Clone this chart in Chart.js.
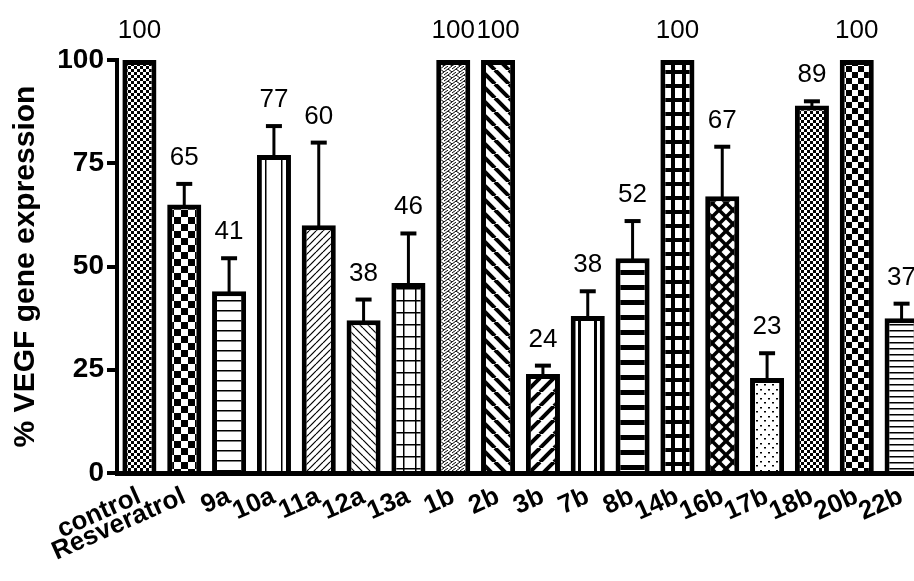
<!DOCTYPE html>
<html>
<head>
<meta charset="utf-8">
<script src="https://cdn.jsdelivr.net/npm/chart.js@4.4.1/dist/chart.umd.min.js"></script>
<style>
  html, body { margin: 0; padding: 0; background: #fff; overflow: hidden; }
  #wrap { position: absolute; left: 0; top: 0; width: 930px; height: 581px; }
</style>
</head>
<body>
<div id="wrap"><canvas id="myChart"></canvas></div>
<script>
// data
const categories = ['control', 'Resveratrol', '9a', '10a', '11a', '12a', '13a', '1b', '2b', '3b', '7b', '8b', '14b', '16b', '17b', '18b', '20b', '22b'];
const values = [100, 65, 44, 77, 60, 37, 46, 100, 100, 24, 38, 52, 100, 67, 23, 89, 100, 37.5];
const errors = [0, 5, 8, 7, 20, 5, 12, 0, 0, 2, 6, 9, 0, 12, 6, 1, 0, 3.5];
const valueLabels = ['100', '65', '41', '77', '60', '38', '46', '100', '100', '24', '38', '52', '100', '67', '23', '89', '100', '37'];
const yTicks = [0, 25, 50, 75, 100];

// fill pattern for each bar (same order as categories)
const patternKinds = ['checkS', 'checkL', 'hThin', 'vThin', 'slashThin', 'backThin', 'gridThin', 'zigzag', 'backThick', 'slashThick', 'vThick', 'hThick', 'gridThick', 'diamond', 'dots', 'checkS', 'checkM', 'hThin2'];

function makePattern(kind) {
    var c = document.createElement('canvas');
    var w = 12, h = 12;
    var setup = {
        checkS: [6, 6], checkL: [14, 14], checkM: [12, 12],
        hThin: [10, 10], hThin2: [10, 6], vThin: [16, 10],
        slashThin: [7, 7], backThin: [8, 8], gridThin: [12, 12],
        zigzag: [8, 6], backThick: [14, 14], slashThick: [14, 14],
        vThick: [16, 10], hThick: [10, 15], gridThick: [11, 14],
        diamond: [14, 14], dots: [8, 9]
    }[kind];
    w = setup[0]; h = setup[1];
    c.width = w; c.height = h;
    var g = c.getContext('2d');
    g.fillStyle = '#fff';
    g.fillRect(0, 0, w, h);
    g.fillStyle = '#000';
    g.strokeStyle = '#000';
    if (kind.indexOf('check') == 0) {
        g.fillRect(0, 0, w / 2, h / 2);
        g.fillRect(w / 2, h / 2, w / 2, h / 2);
    }
    else if (kind == 'hThin' || kind == 'hThin2') {
        g.fillRect(0, 0, w, 1.5);
    }
    else if (kind == 'hThick') {
        g.fillRect(0, 0, w, 5);
    }
    else if (kind == 'vThin') {
        g.fillRect(w / 2, 0, 1.5, h);
    }
    else if (kind == 'vThick') {
        g.fillRect(w / 2 - 1, 0, 3, h);
    }
    else if (kind == 'gridThin') {
        g.fillRect(0, 0, w, 1.5);
        g.fillRect(0, 0, 1.5, h);
    }
    else if (kind == 'gridThick') {
        g.fillRect(0, 0, w, 4);
        g.fillRect(0, 0, 4, h);
    }
    else if (kind == 'slashThin' || kind == 'slashThick' || kind == 'backThin' || kind == 'backThick' || kind == 'diamond') {
        g.lineWidth = kind.indexOf('Thin') > 0 ? 1.2 : 4;
        if (kind == 'diamond') g.lineWidth = 3.5;
        var dirs = kind == 'diamond' ? [1, -1] : (kind.indexOf('slash') == 0 ? [1] : [-1]);
        dirs.forEach(function (d) {
            for (var k = -1; k <= 1; k++) {
                g.beginPath();
                if (d == 1) {
                    g.moveTo(k * w, h);
                    g.lineTo(k * w + w, 0);
                } else {
                    g.moveTo(k * w, 0);
                    g.lineTo(k * w + w, h);
                }
                g.stroke();
            }
        });
    }
    else if (kind == 'zigzag') {
        g.lineWidth = 1;
        g.beginPath();
        g.moveTo(0, h);
        g.lineTo(w / 2, h / 2);
        g.lineTo(w, h);
        g.moveTo(0, h / 2);
        g.lineTo(w / 2, 0);
        g.moveTo(w / 2, h / 2);
        g.lineTo(w, 0);
        g.stroke();
    }
    else if (kind == 'dots') {
        g.fillRect(2, 2, 2, 1.5);
        g.fillRect(6, 6, 2, 1.5);
    }
    return document.getElementById('myChart').getContext('2d').createPattern(c, 'repeat');
}

const patterns = patternKinds.map(makePattern);
const FONT = '"Liberation Sans", Arial, sans-serif';

// lines the patterns up with each bar, then draws error bars and value labels
const barExtras = {
    id: 'barExtras',
    beforeDatasetsDraw(chart) {
        var meta = chart.getDatasetMeta(0);
        meta.data.forEach(function (bar, i) {
            var left = Math.round(bar.x - bar.width / 2);
            patterns[i].setTransform(new DOMMatrix([1, 0, 0, 1, left, 0]));
        });
    },
    afterDatasetsDraw(chart) {
        var ctx = chart.ctx;
        var y = chart.scales.y;
        var meta = chart.getDatasetMeta(0);
        ctx.save();
        ctx.strokeStyle = '#000';
        meta.data.forEach(function (bar, i) {
            var top = y.getPixelForValue(values[i] + errors[i]);
            if (errors[i] > 0) {
                ctx.lineWidth = 3;
                ctx.beginPath();
                ctx.moveTo(bar.x, y.getPixelForValue(values[i]) + 2);
                ctx.lineTo(bar.x, top);
                ctx.stroke();
                ctx.lineWidth = 4;
                ctx.beginPath();
                ctx.moveTo(bar.x - 8, top);
                ctx.lineTo(bar.x + 8, top);
                ctx.stroke();
            }
            ctx.fillStyle = '#000';
            ctx.font = '26px ' + FONT;
            ctx.textAlign = 'center';
            ctx.textBaseline = 'alphabetic';
            ctx.fillText(valueLabels[i], bar.x, top - (errors[i] > 0 ? 19 : 22));
        });
        ctx.restore();
    }
};

var chart = new Chart(document.getElementById('myChart'), {
    type: 'bar',
    data: {
        labels: categories,
        datasets: [{
            data: values,
            backgroundColor: patterns,
            borderColor: '#000',
            borderWidth: 5,
            borderSkipped: 'start',
            barPercentage: 0.76,
            categoryPercentage: 1
        }]
    },
    options: {
        responsive: true,
        maintainAspectRatio: false,
        devicePixelRatio: 1,
        animation: false,
        layout: { padding: { top: 60, right: 6, bottom: 0, left: 0 } },
        plugins: { legend: { display: false }, tooltip: { enabled: false } },
        scales: {
            x: {
                afterFit: function (scale) { scale.height = 108; },
                grid: { display: false, drawTicks: false },
                border: { display: true, color: '#000', width: 5 },
                ticks: {
                    autoSkip: false,
                    minRotation: 24,
                    maxRotation: 24,
                    padding: 8,
                    color: '#000',
                    font: { family: FONT, size: 26, weight: 'bold' }
                }
            },
            y: {
                min: 0,
                max: 100,
                afterFit: function (scale) { scale.width = 117; },
                afterBuildTicks: function (scale) { scale.ticks = yTicks.map(v => ({ value: v })); },
                grid: { display: true, drawOnChartArea: false, drawTicks: true, tickLength: 10, color: '#000', lineWidth: 4 },
                border: { display: true, color: '#000', width: 4 },
                ticks: {
                    padding: 3,
                    color: '#000',
                    font: { family: FONT, size: 28, weight: 'bold' }
                },
                title: {
                    display: true,
                    text: '% VEGF gene expression',
                    color: '#000',
                    padding: { top: 8, bottom: 0 },
                    font: { family: FONT, size: 30, weight: 'bold' }
                }
            }
        }
    },
    plugins: [barExtras]
});
</script>
</body>
</html>
